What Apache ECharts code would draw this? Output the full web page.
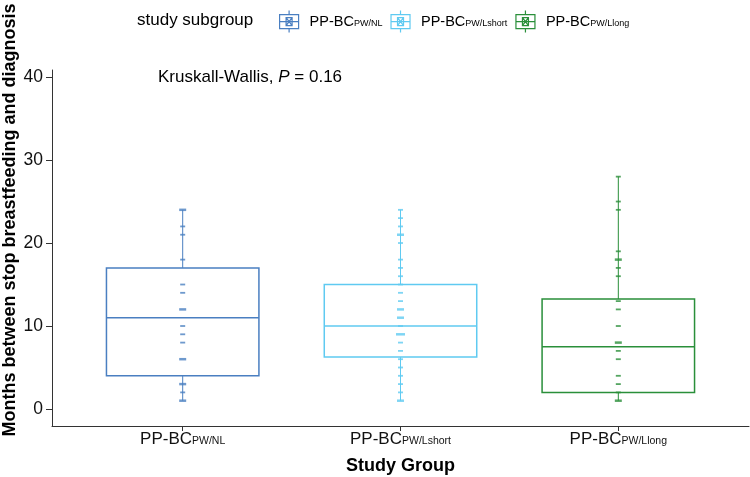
<!DOCTYPE html>
<html><head><meta charset="utf-8">
<script src="https://cdn.jsdelivr.net/npm/echarts@6/dist/echarts.min.js"></script>
<style>html,body{margin:0;padding:0;background:#fff}#c{width:750px;height:477px}</style>
</head><body><div id="c"></div><script>
// ---- data ----
const categories = ['PW/NL', 'PW/Lshort', 'PW/Llong'];
const groupColors = ['#4A7FC1', '#5FCAF1', '#2A8F3A'];
// box statistics: [min, q1, median, q3, max]
const nlBox = [1, 4, 11, 17, 24];
const lshortBox = [1, 6.25, 10, 15, 24];
const llongBox = [1, 2, 7.5, 13.25, 28];
// individual observations (months)
const nlPoints = [24, 24, 22, 21, 18, 15, 14, 12, 12, 10, 9, 8, 6, 6, 3, 3, 2, 1, 1];
const lshortPoints = [24, 23, 22, 21, 21, 20, 18, 17, 16, 15, 14, 13, 12, 12, 11, 11, 10, 9, 9, 9, 8, 7, 6, 5, 4, 3, 2, 1, 1];
const llongPoints = [28, 25, 24, 19, 18, 18, 17, 16, 13, 12, 10, 8, 8, 7, 6, 4, 3, 2, 1, 1];
const yTicks = [0, 10, 20, 30, 40];
const xTicks = [1, 2, 3];
const annotationText = 'Kruskall-Wallis, {i|P} = 0.16';

// ---- build ----
const boxes = [nlBox, lshortBox, llongBox];
const pointSets = [nlPoints, lshortPoints, llongPoints];
const FONT = 'Liberation Sans, Arial, sans-serif';

function aggregate(vals, x) {
  const m = new Map();
  vals.forEach(v => m.set(v, (m.get(v) || 0) + 1));
  return Array.from(m.entries()).map(([v, c]) => [x, v, c]);
}

const series = [];
categories.forEach((cat, i) => {
  const color = groupColors[i];
  series.push({
    name: cat,
    type: 'custom',
    itemStyle: { color: color },
    data: [[i + 1].concat(boxes[i])],
    encode: { x: 0, y: [1, 2, 3, 4, 5] },
    z: 2,
    renderItem: function (params, api) {
      const x = api.value(0);
      const bw = api.size([0.7, 0])[0];
      const h = bw / 2;
      const pMin = api.coord([x, api.value(1)]);
      const pQ1 = api.coord([x, api.value(2)]);
      const pMed = api.coord([x, api.value(3)]);
      const pQ3 = api.coord([x, api.value(4)]);
      const pMax = api.coord([x, api.value(5)]);
      return {
        type: 'group',
        children: [
          { type: 'line', shape: { x1: pMin[0], y1: pMin[1], x2: pQ1[0], y2: pQ1[1] }, style: { stroke: color, lineWidth: 1 } },
          { type: 'line', shape: { x1: pQ3[0], y1: pQ3[1], x2: pMax[0], y2: pMax[1] }, style: { stroke: color, lineWidth: 1 } },
          { type: 'rect', shape: { x: pQ3[0] - h, y: pQ3[1], width: bw, height: pQ1[1] - pQ3[1] }, style: { fill: 'rgba(0,0,0,0)', stroke: color, lineWidth: 1.5 } },
          { type: 'line', shape: { x1: pMed[0] - h, y1: pMed[1], x2: pMed[0] + h, y2: pMed[1] }, style: { stroke: color, lineWidth: 1.5 } }
        ]
      };
    }
  });
  series.push({
    name: cat,
    type: 'scatter',
    z: 3,
    symbol: 'rect',
    symbolSize: function (val) { return [3 + 2 * val[2], val[2] > 1 ? 2.5 : 1.8]; },
    itemStyle: { color: color },
    data: aggregate(pointSets[i], i + 1),
    silent: true
  });
});

const legendIcon = 'path://M9.5,0L9.5,4M9.5,18L9.5,22M0,4L19,4L19,18L0,18ZM0,11L19,11M6.5,7L12.5,7L12.5,15L6.5,15ZM6.5,7L12.5,15M12.5,7L6.5,15';

const chart = echarts.init(document.getElementById('c'), null, { renderer: 'canvas' });
chart.setOption({
  backgroundColor: '#ffffff',
  animation: false,
  textStyle: { fontFamily: FONT },
  grid: { left: 52, right: 1, top: 70, bottom: 51, containLabel: false },
  legend: {
    left: 274, top: 5,
    itemWidth: 19, itemHeight: 22, itemGap: 8,
    selectedMode: false,
    data: categories.map((c, i) => ({
      name: c, icon: legendIcon,
      itemStyle: { color: 'rgba(0,0,0,0)', borderColor: groupColors[i], borderWidth: 1.2 }
    })),
    formatter: n => 'PP-BC{sub|' + n + '}',
    textStyle: {
      fontSize: 14.5, color: '#000', fontFamily: FONT, padding: [0, 0, 0, 6],
      rich: { sub: { fontSize: 9, color: '#000', fontFamily: FONT, verticalAlign: 'bottom', padding: [0, 0, 1, 0] } }
    }
  },
  xAxis: {
    type: 'value', min: 0.4, max: 3.6,
    axisLine: { show: true, onZero: false, lineStyle: { color: '#333', width: 1 } },
    axisTick: { show: true, customValues: xTicks, length: 5, lineStyle: { color: '#333' } },
    axisLabel: {
      customValues: xTicks, margin: 5, color: '#111', fontSize: 17, fontFamily: FONT,
      formatter: v => 'PP-BC{sub|' + categories[Math.round(v) - 1] + '}',
      rich: { sub: { fontSize: 10.5, color: '#111', fontFamily: FONT, verticalAlign: 'bottom', padding: [0, 0, 1, 0] } }
    },
    splitLine: { show: false }
  },
  yAxis: {
    type: 'value', min: -2.05, max: 40.85,
    axisLine: { show: true, lineStyle: { color: '#333', width: 1 } },
    axisTick: { show: true, customValues: yTicks, length: 6, lineStyle: { color: '#333' } },
    axisLabel: { customValues: yTicks, margin: 9, color: '#111', fontSize: 17.5, fontFamily: FONT },
    splitLine: { show: false }
  },
  graphic: [
    { type: 'text', left: 137, top: 12, style: { text: 'study subgroup', font: '17px ' + FONT, fill: '#000' } },
    { type: 'text', x: 10, y: 220, rotation: Math.PI / 2, style: { text: 'Months between stop breastfeeding and diagnosis', font: 'bold 18px ' + FONT, fill: '#000', align: 'center', verticalAlign: 'middle' } },
    { type: 'text', x: 400.5, y: 466, style: { text: 'Study Group', font: 'bold 18px ' + FONT, fill: '#000', align: 'center', verticalAlign: 'middle' } },
    { type: 'text', x: 158, y: 77, style: { text: annotationText, font: '17px ' + FONT, fill: '#000', align: 'left', verticalAlign: 'middle', rich: { i: { font: 'italic 17px ' + FONT, fill: '#000' } } } }
  ],
  series: series
});
</script></body></html>
